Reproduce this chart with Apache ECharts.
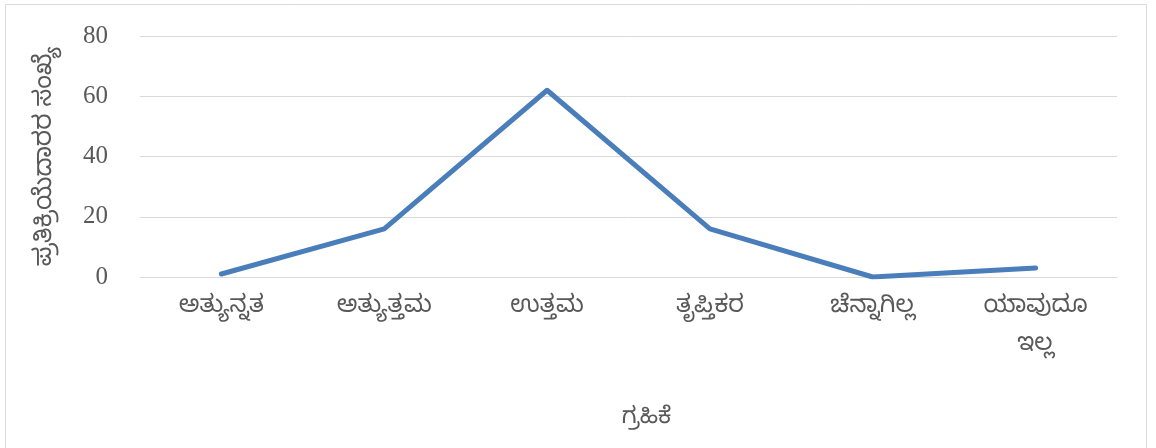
<!DOCTYPE html>
<html>
<head>
<meta charset="utf-8">
<script src="https://cdn.jsdelivr.net/npm/echarts@6/dist/echarts.min.js"></script>
<style>
  html, body { margin: 0; padding: 0; background: #fff; }
  #chart { width: 1156px; height: 448px; }
</style>
</head>
<body>
<div id="chart"></div>
<script>
  // ಗ್ರಹಿಕೆ categories and respondent counts
  const categories = ['ಅತ್ಯುನ್ನತ', 'ಅತ್ಯುತ್ತಮ', 'ಉತ್ತಮ', 'ತೃಪ್ತಿಕರ', 'ಚೆನ್ನಾಗಿಲ್ಲ', 'ಯಾವುದೂ\nಇಲ್ಲ'];
  const counts = [1, 16, 62, 16, 0, 3];
  const yTicks = [0, 20, 40, 60, 80];

  const kannadaFont = "'Noto Sans Kannada', 'Noto Serif Kannada', 'Noto Sans', sans-serif";

  let chart = echarts.init(document.getElementById('chart'));
  chart.setOption({
    animation: false,
    graphic: [{
      type: 'rect',
      shape: {x: 5.5, y: 4.5, width: 1141, height: 460},
      style: {fill: 'none', stroke: '#d9d9d9', lineWidth: 1}
    }],
    grid: {left: 140, right: 39, top: 36, bottom: 171},
    xAxis: {
      type: 'category',
      data: categories,
      name: 'ಗ್ರಹಿಕೆ',
      nameLocation: 'middle',
      nameGap: 132,
      nameTextStyle: {color: '#595959', fontSize: 23, fontFamily: kannadaFont, padding: [0, 0, 0, 36]},
      axisLine: {lineStyle: {color: '#d9d9d9', width: 1}},
      axisTick: {show: false},
      axisLabel: {color: '#595959', fontSize: 24, fontFamily: kannadaFont, margin: 14, lineHeight: 38}
    },
    yAxis: {
      type: 'value',
      min: yTicks[0],
      max: yTicks[yTicks.length - 1],
      interval: 20,
      name: 'ಪ್ರತಿಕ್ರಿಯೆದಾರರ ಸಂಖ್ಯೆ',
      nameLocation: 'middle',
      nameRotate: 90,
      nameGap: 79,
      nameTextStyle: {color: '#595959', fontSize: 25, fontFamily: kannadaFont},
      axisLine: {show: false},
      axisTick: {show: false},
      axisLabel: {color: '#595959', fontSize: 25, fontFamily: "'Liberation Serif', serif", margin: 32},
      splitLine: {lineStyle: {color: '#d9d9d9', width: 1}}
    },
    series: [{
      type: 'line',
      data: counts,
      symbol: 'none',
      lineStyle: {color: '#4a7ebb', width: 5, cap: 'round', join: 'round'}
    }]
  });
</script>
</body>
</html>
